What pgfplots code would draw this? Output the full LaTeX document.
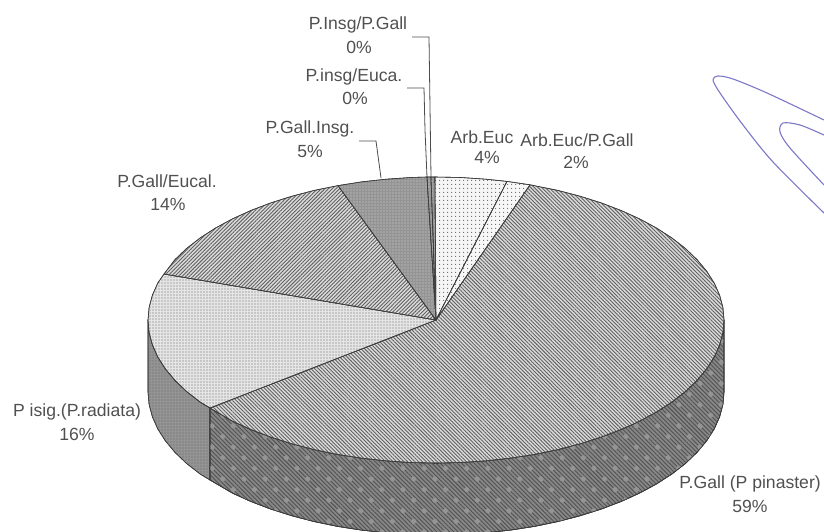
\documentclass[border=0pt]{standalone}
\usepackage{fontspec}
\setmainfont{Liberation Sans}
\usepackage{pgfplots}
\pgfplotsset{compat=1.18}
\usetikzlibrary{patterns,patterns.meta}
\definecolor{txt}{HTML}{505050}
\definecolor{edge}{HTML}{3A3A3A}
\definecolor{scrib}{HTML}{7C78C8}
\tikzset{
  lbl/.style={font=\fontsize{17.6}{20}\selectfont,text=txt,inner sep=0pt,align=center},
  slice/.style={draw=edge,line width=0.6pt,line join=round},
  hatchR/.style={postaction={pattern={Lines[angle=-45,distance=2.6pt,line width=0.9pt]},pattern color=black!62}},
  hatchL/.style={postaction={pattern={Lines[angle=45,distance=2.6pt,line width=0.9pt]},pattern color=black!62}},
  dotsD/.style={postaction={pattern={Dots[distance=3pt,radius=0.6pt]},pattern color=black!60}},
  dotsS/.style={postaction={pattern={Dots[distance=4pt,radius=0.7pt]},pattern color=black!60}},
  dotsL/.style={postaction={pattern={Dots[distance=3pt,radius=0.7pt]},pattern color=white!85!black}},
}
\begin{document}
\begin{tikzpicture}
\begin{axis}[
  width=824pt, height=532pt, scale only axis,
  xmin=0, xmax=824, ymin=0, ymax=532, y dir=reverse,
  ticks=none, axis line style={draw=none}, clip=true, no markers,
]
% side wall, P isig
\addplot[slice,fill=black!42,dotsD] coordinates {
  (210,408)(200.1,402)(186.6,391.5)(175,380.4)(165.4,368.9)(157.8,357)(152.4,344.8)(149.1,332.5)(148,320)
  (148,392)(149.1,404.5)(152.4,416.8)(157.8,429)(165.4,440.9)(175,452.4)(186.6,463.5)(200.1,474)(210,480)} -- cycle;
% side wall, P.Gall
\addplot[slice,fill=black!47,
  postaction={pattern={Lines[angle=-45,distance=3pt,line width=0.9pt]},pattern color=black!68},
  postaction={pattern={Dots[angle=45,distance=15pt,radius=2.6pt]},pattern color=black!42}] coordinates {
  (210,408)(232.4,421.1)(250.9,429.5)(270.8,437.1)(292,443.8)(314.3,449.6)(337.5,454.4)(361.5,458.1)(386,460.8)
  (410.9,462.5)(436,463)(461.1,462.5)(486,460.8)(510.5,458.1)(534.5,454.4)(557.7,449.6)(580,443.8)(601.2,437.1)
  (621.1,429.5)(639.6,421.1)(656.6,411.9)(671.9,402)(685.4,391.5)(697,380.4)(706.6,368.9)(714.2,357)(719.6,344.8)
  (722.9,332.5)(724,320)
  (724,392)(722.9,404.5)(719.6,416.8)(714.2,429)(706.6,440.9)(697,452.4)(685.4,463.5)(671.9,474)(656.6,483.9)
  (639.6,493.1)(621.1,501.5)(601.2,509.1)(580,515.8)(557.7,521.6)(534.5,526.4)(510.5,530.1)(486,532.8)(461.1,534.5)
  (436,535)(410.9,534.5)(386,532.8)(361.5,530.1)(337.5,526.4)(314.3,521.6)(292,515.8)(270.8,509.1)(250.9,501.5)
  (232.4,493.1)(210,480)} -- cycle;
% top: P.Gall (P pinaster)
\addplot[slice,fill=black!14,hatchR] coordinates {
  (436,320)(530,184.8)(557.7,190.4)(580,196.2)(601.2,202.9)(621.1,210.5)(639.6,218.9)(656.6,228.1)(671.9,238)
  (685.4,248.5)(697,259.6)(706.6,271.1)(714.2,283)(719.6,295.2)(722.9,307.5)(724,320)(722.9,332.5)(719.6,344.8)
  (714.2,357)(706.6,368.9)(697,380.4)(685.4,391.5)(671.9,402)(656.6,411.9)(639.6,421.1)(621.1,429.5)(601.2,437.1)
  (580,443.8)(557.7,449.6)(534.5,454.4)(510.5,458.1)(486,460.8)(461.1,462.5)(436,463)(410.9,462.5)(386,460.8)
  (361.5,458.1)(337.5,454.4)(314.3,449.6)(292,443.8)(270.8,437.1)(250.9,429.5)(232.4,421.1)(210,408)} -- cycle;
% top: P isig
\addplot[slice,fill=black!10,dotsD] coordinates {
  (436,320)(210,408)(200.1,402)(186.6,391.5)(175,380.4)(165.4,368.9)(157.8,357)(152.4,344.8)(149.1,332.5)
  (148,320)(149.1,307.5)(152.4,295.2)(157.8,283)(164,274)} -- cycle;
% top: P.Gall/Eucal
\addplot[slice,fill=black!14,hatchL] coordinates {
  (436,320)(164,274)(175,259.6)(186.6,248.5)(200.1,238)(215.4,228.1)(232.4,218.9)(250.9,210.5)(270.8,202.9)
  (292,196.2)(314.3,190.4)(338,185.6)} -- cycle;
% top: P.Gall.Insg
\addplot[slice,fill=black!42,dotsL] coordinates {
  (436,320)(338,185.6)(361.5,181.9)(386,179.2)(410.9,177.5)(427,177)} -- cycle;
% top: zero slices
\addplot[slice,fill=black!42,dotsL] coordinates {(436,320)(427,177)(431,177)} -- cycle;
\addplot[slice,fill=black!42,dotsL] coordinates {(436,320)(431,177)(435,177)} -- cycle;
% top: Arb.Euc
\addplot[slice,fill=black!4,dotsS] coordinates {
  (436,320)(435,177)(461.1,177.5)(486,179.2)(507,181.4)} -- cycle;
% top: Arb.Euc/P.Gall
\addplot[slice,fill=black!3,dotsS] coordinates {
  (436,320)(507,181.4)(530,184.8)} -- cycle;
% leader lines
\addplot[draw=black!70,line width=0.8pt] coordinates {(412,37)(429,37)(431,177)};
\addplot[draw=black!70,line width=0.8pt] coordinates {(407,88)(424,88)(425,130)(427,177)};
\addplot[draw=black!70,line width=0.8pt] coordinates {(359,141)(376,141)(381,178)};
% pen marks
\addplot[draw=scrib,line width=1.1pt,smooth] coordinates {
  (824,120)(767,93)(733,79)(718,76)(713,80)(720,93)(743,125)(773,162)(824,213)};
\addplot[draw=scrib,line width=1.1pt,smooth] coordinates {
  (824,135)(800,125)(783,123)(780,132)(790,148)(824,185)};
% labels
\node[lbl] at (axis cs:358,25) {P.Insg/P.Gall};
\node[lbl] at (axis cs:359,47) {0\%};
\node[lbl] at (axis cs:354,77) {P.insg/Euca.};
\node[lbl] at (axis cs:355,98) {0\%};
\node[lbl] at (axis cs:310,129) {P.Gall.Insg.};
\node[lbl] at (axis cs:310,151) {5\%};
\node[lbl] at (axis cs:167,181) {P.Gall/Eucal.};
\node[lbl] at (axis cs:168,204) {14\%};
\node[lbl] at (axis cs:482,137) {Arb.Euc};
\node[lbl] at (axis cs:487,157) {4\%};
\node[lbl] at (axis cs:577,140) {Arb.Euc/P.Gall};
\node[lbl] at (axis cs:576,162) {2\%};
\node[lbl] at (axis cs:77,412) {P isig.(P.radiata)};
\node[lbl] at (axis cs:77,434) {16\%};
\node[lbl] at (axis cs:750,484) {P.Gall (P pinaster)};
\node[lbl] at (axis cs:750,506) {59\%};
\end{axis}
\end{tikzpicture}
\end{document}
